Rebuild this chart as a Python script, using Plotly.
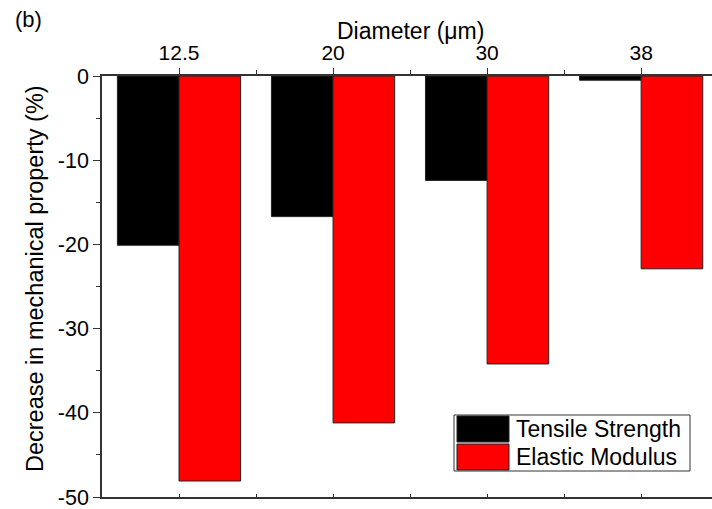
import plotly.graph_objects as go

diameters = ["12.5", "20", "30", "38"]
tensile_strength = [-20.1, -16.7, -12.4, -0.5]
elastic_modulus = [-48.1, -41.2, -34.2, -22.9]
series_names = ["Tensile Strength", "Elastic Modulus"]
series_colors = ["#000000", "#ff0000"]
y_tick_values = [0, -10, -20, -30, -40, -50]
y_tick_labels = ["0", "-10", "-20", "-30", "-40", "-50"]

W, H = 712, 509
L, R, T, B = 102, 0, 76, 12
PW, PH = W - L - R, H - T - B

def px(xp):
    return (xp - L) / PW

def py(yp):
    return (H - B - yp) / PH

FONT = "Liberation Sans, Arial, sans-serif"
xpos = list(range(len(diameters)))

fig = go.Figure()
for name, vals, col in zip(series_names, [tensile_strength, elastic_modulus], series_colors):
    fig.add_trace(go.Bar(x=xpos, y=vals, name=name, marker=dict(color=col, line=dict(color="#222222", width=1)),
                         showlegend=False))
# empty trace so the mirrored bottom axis gets drawn
fig.add_trace(go.Scatter(x=[], y=[], xaxis="x2", yaxis="y", showlegend=False, hoverinfo="skip"))

axcol = "#333333"
fig.update_layout(
    width=W, height=H, margin=dict(l=L, r=R, t=T, b=B, autoexpand=False),
    paper_bgcolor="white", plot_bgcolor="white",
    barmode="group", bargap=0.2, bargroupgap=0.0,
    font=dict(family=FONT, size=21, color="black"),
    xaxis=dict(side="top", range=[-0.5, 3.46], tickmode="array", tickvals=xpos, ticktext=diameters,
               ticks="outside", ticklen=6, tickwidth=1, tickcolor=axcol, automargin=False,
               minor=dict(tickmode="array", tickvals=[0.5, 1.5, 2.5], ticks="outside", ticklen=4, tickcolor=axcol),
               showline=True, linecolor=axcol, linewidth=1.5, showgrid=False, zeroline=False,
               tickfont=dict(size=21)),
    xaxis2=dict(overlaying="x", side="bottom", anchor="y", range=[-0.5, 3.46], automargin=False,
                tickmode="array", tickvals=[0, 0.5, 1, 1.5, 2, 2.5, 3], ticktext=[""] * 7,
                ticks="inside", ticklen=3, tickcolor=axcol, showline=True, linecolor=axcol, linewidth=1.5,
                showgrid=False, zeroline=False, showticklabels=False),
    yaxis=dict(range=[-50, 0], tickmode="array", tickvals=y_tick_values, ticktext=y_tick_labels,
               ticks="outside", ticklen=7, tickwidth=1, tickcolor=axcol, automargin=False,
               minor=dict(tickmode="linear", tick0=0, dtick=5, ticks="outside", ticklen=4, tickcolor=axcol),
               showline=True, linecolor=axcol, linewidth=1.5, showgrid=False, zeroline=False,
               ticklabeloverflow="allow", tickfont=dict(size=21.5)),
)

# custom legend
shapes = [
    dict(type="rect", xref="paper", yref="paper", x0=px(454), x1=px(690), y0=py(471), y1=py(415),
         line=dict(color="#333333", width=1), fillcolor="white", layer="above"),
]
ytops = [416, 444]
for i, (name, col) in enumerate(zip(series_names, series_colors)):
    y0 = ytops[i]
    shapes.append(dict(type="rect", xref="paper", yref="paper", x0=px(457), x1=px(509),
                       y0=py(y0 + 26), y1=py(y0), line=dict(color="#222222", width=1), fillcolor=col,
                       layer="above"))
annotations = []
for i, name in enumerate(series_names):
    annotations.append(dict(text=name, xref="paper", yref="paper", x=px(514), y=py(ytops[i] + 13),
                            xanchor="left", yanchor="middle", showarrow=False, font=dict(size=23)))
annotations.append(dict(text="(b)", xref="paper", yref="paper", x=px(13), y=py(19),
                        xanchor="left", yanchor="middle", showarrow=False, font=dict(size=22)))
# axis titles
annotations.append(dict(text="Diameter (\u03bcm)", xref="paper", yref="paper", x=px(410), y=py(31),
                        xanchor="center", yanchor="middle", showarrow=False, font=dict(size=23)))
annotations.append(dict(text="Decrease in mechanical property (%)", xref="paper", yref="paper",
                        x=px(35), y=py(279), textangle=-90,
                        xanchor="center", yanchor="middle", showarrow=False, font=dict(size=23.5)))
fig.update_layout(shapes=shapes, annotations=annotations)

fig.write_html("out.html")
